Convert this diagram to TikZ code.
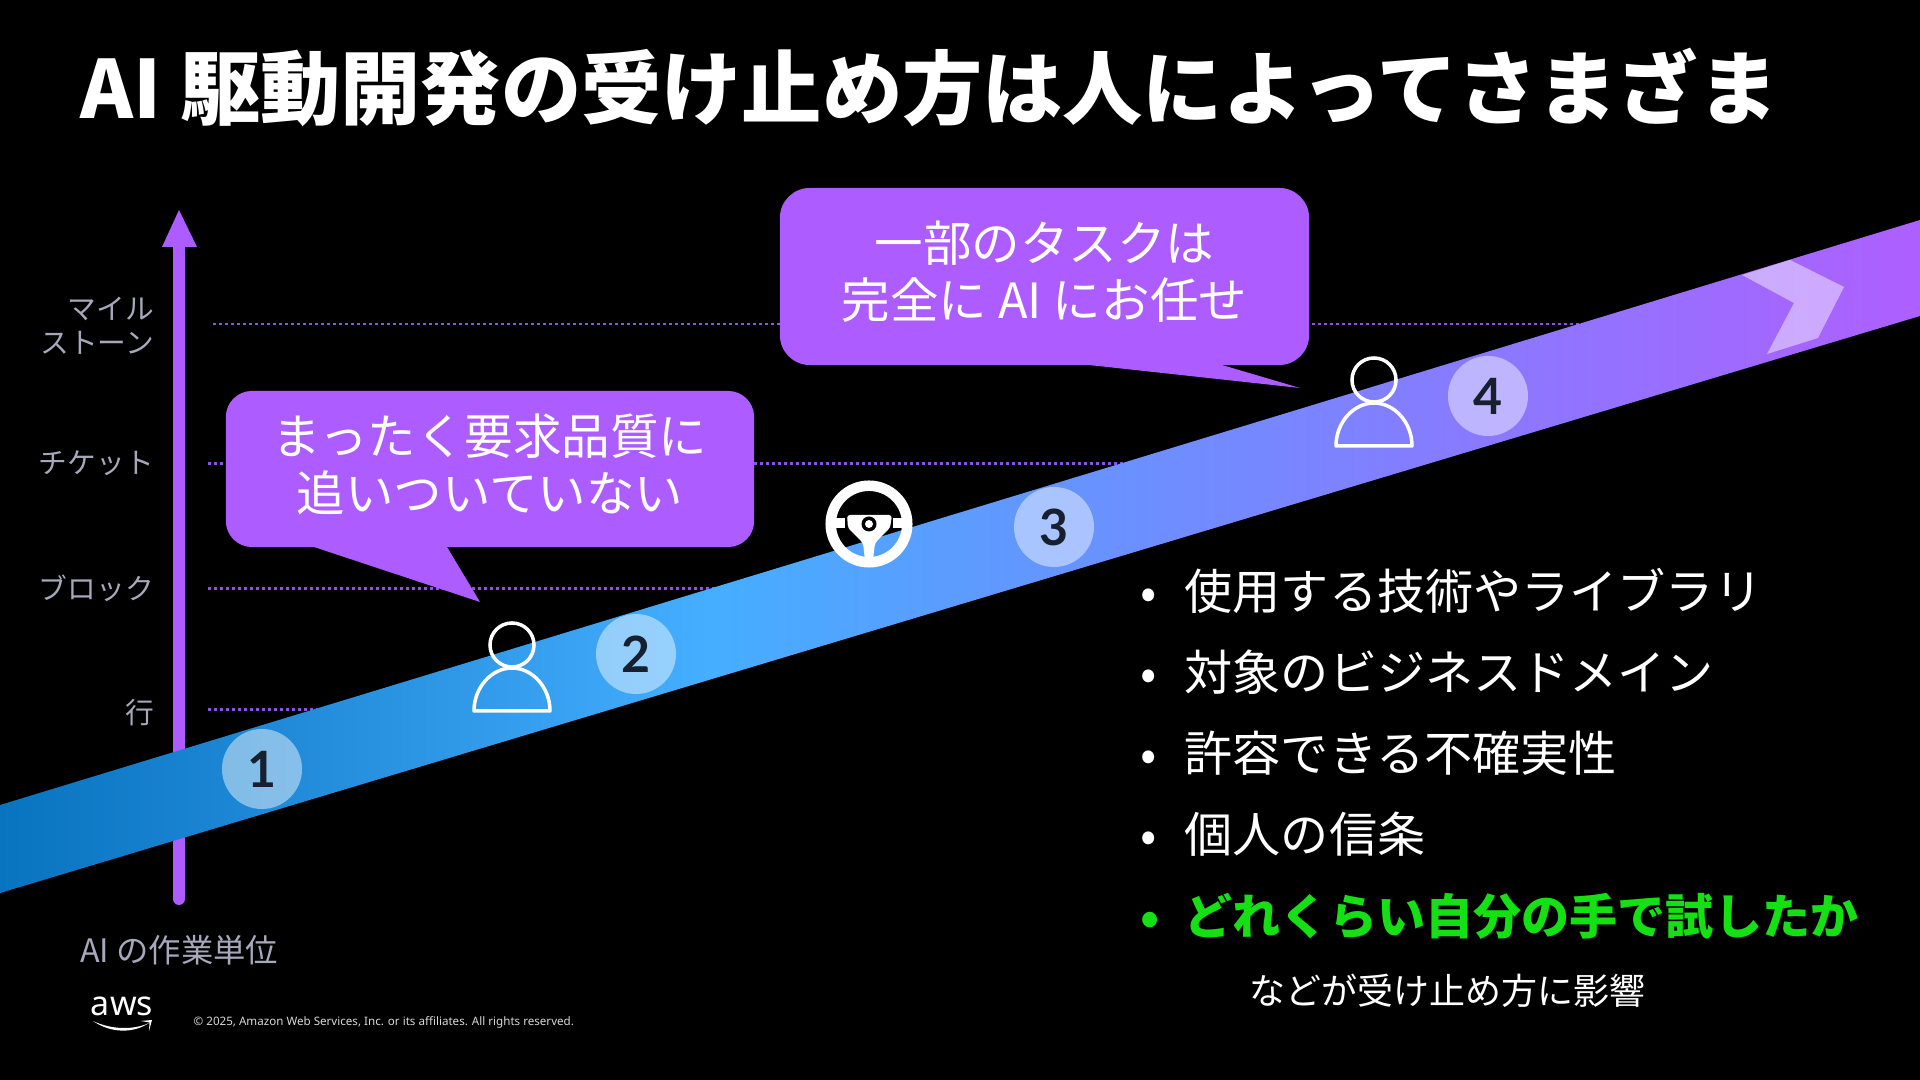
\documentclass[tikz,border=0pt]{standalone}
\usepackage{fontspec}
\setmainfont{Noto Sans CJK JP}
\newfontfamily\latinfont{Noto Sans}
\newfontfamily\digitfont{Lato}
\usepackage{xcolor}
\usetikzlibrary{arrows.meta,positioning,calc}
\definecolor{axispurple}{HTML}{AD5CFF}
\definecolor{dotpurple}{HTML}{8F52E0}
\definecolor{labelgrey}{HTML}{A8A8BC}
\definecolor{digitdark}{HTML}{16202E}
\definecolor{trygreen}{HTML}{14E014}
\definecolor{ribA}{HTML}{0873BF}
\definecolor{ribB}{HTML}{45AEFF}
\definecolor{ribC}{HTML}{6396FF}
\definecolor{ribD}{HTML}{8B78FF}
\definecolor{ribE}{HTML}{AE5FFF}
\pgfdeclarehorizontalshading{ribbonshade}{100bp}{
  color(0bp)=(ribA);
  color(25bp)=(ribA);
  color(43.5bp)=(ribB);
  color(52bp)=(ribC);
  color(64bp)=(ribD);
  color(75bp)=(ribE);
  color(100bp)=(ribE)}
\newdimen\pxdim
\pxdim=0.2845pt
\newcommand{\pxfont}[2]{\fontsize{\the\dimexpr#1\pxdim\relax}{\the\dimexpr#2\pxdim\relax}\selectfont}
\newcommand{\bulletitem}[1]{\makebox[0.44cm][l]{•}#1}
\tikzset{
  person/.pic={
    \draw[white, line width=0.035cm] (0,0) circle (0.22cm);
    \draw[white, line width=0.035cm, line join=round] (-38,66) -- (38,66) .. controls (38,42) and (20,23) .. (0,23) .. controls (-20,23) and (-38,42) .. (-38,66) -- cycle;
  },
  wheel/.pic={
    \fill[white, even odd rule] (0,0) circle (0.435cm) (0,0) circle (0.33cm);
    \fill[white, rounded corners=0.03cm] (-22,-9) -- (23,-9) -- (21,4) -- (6,19) -- (4,36) -- (-4,36) -- (-6,19) -- (-21,4) -- cycle;
    \fill[white] (-36,-6) rectangle (-24,4);
    \fill[white] (24,-6) rectangle (36,4);
    \fill[black] (0,0) circle (0.075cm);
    \fill[white] (0,0) circle (0.04cm);
  }
}
\begin{document}
\begin{tikzpicture}[
    x=0.01cm, y=-0.01cm,
    >=Latex,
    bubble/.style={fill=axispurple, rounded corners=0.26cm, inner sep=0pt},
    bubbletext/.style={text=white, align=center, inner sep=0pt, font=\pxfont{48.5}{57}},
    tail/.style={fill=axispurple},
    dotline/.style={dotpurple, line width=0.03cm, dash pattern=on 0.03cm off 0.03cm},
    axislabel/.style={labelgrey, anchor=east, align=right, inner sep=0pt, font=\pxfont{28.7}{34}},
    stepdot/.style={circle, fill=white, fill opacity=0.45, text opacity=1, text=digitdark, minimum size=0.8cm, inner sep=0pt, font=\digitfont\pxfont{50}{50}\bfseries},
    listitem/.style={text=white, anchor=west, inner sep=0pt, text height=0.36cm, text depth=0.07cm, font=\pxfont{48.1}{48}}
]
\fill[black] (0,0) rectangle (1920,1080);
\useasboundingbox (0,0) rectangle (1920,1080);
\node[anchor=west, inner sep=0pt, text=white, font=\pxfont{80.2}{80}\bfseries] (title) at (80,87) {AI 駆動開発の受け止め方は人によってさまざま};
% axis and levels
\coordinate (axisbot) at (179,899);
\coordinate (axistop) at (179,210);
\draw[axispurple, line width=0.12cm, line cap=round] (axisbot) -- (179,240);
\fill[axispurple] (axistop) -- (197,247) -- (162,247) -- cycle;
\coordinate (levM) at (213,324);
\coordinate (levT) at (208,464);
\coordinate (levB) at (208,589);
\coordinate (levL) at (208,710);
\draw[dotline, line width=0.02cm] (levM) -- ++(1370,0);
\draw[dotline] (levT) -- ++(915,0);
\draw[dotline] (levB) -- ++(510,0);
\draw[dotline] (levL) -- ++(110,0);
\node[axislabel] (milestone) at (154.5,326) {マイル\\ストーン};
\node[axislabel] (ticket) at (154.5,463) {チケット};
\node[axislabel] (block) at (154.5,588) {ブロック};
\node[axislabel] (line) at (154.5,713) {行};
\node[labelgrey, inner sep=0pt, font=\pxfont{32.3}{33}] (unit) at (179,950) {AI の作業単位};
% ribbon
\shade[shading=ribbonshade] (0,805) -- (1920,220) -- (1920,316) -- (0,893) -- cycle;
\fill[white, fill opacity=0.45] (1742,275) -- (1790,260) -- (1844,287) -- (1818,338) -- (1767,354) -- (1794,303) -- cycle;
\node[stepdot] (one) at (262,769) {1};
\node[stepdot] (two) at (636,654) {2};
\node[stepdot] (three) at (1054,527) {3};
\node[stepdot] (four) at (1488,396) {4};
\pic at (512,645) {person};
\pic at (1374,380) {person};
\pic at (869,524) {wheel};
% bubbles
\fill[tail] (314,540) -- (314,547) -- (480,602) -- (447,547) -- (447,540) -- cycle;
\node[bubble, minimum width=5.28cm, minimum height=1.56cm] (behind) at (490,469) {};
\node[bubbletext] (behindtext) at (490,464) {まったく要求品質に\\追いついていない};
\fill[tail] (1089,358) -- (1089,365) -- (1300,388) -- (1222,365) -- (1222,358) -- cycle;
\node[bubble, rounded corners=0.3cm, minimum width=5.29cm, minimum height=1.77cm] (delegate) at (1044.5,276.5) {};
\node[bubbletext] (delegatetext) at (1044.5,271.5) {一部のタスクは\\完全に AI にお任せ};
% list
\node[listitem] (tech) at (1140,595) {\bulletitem{使用する技術やライブラリ}};
\node[listitem, below=0.81cm of tech.west, anchor=west] (domain) {\bulletitem{対象のビジネスドメイン}};
\node[listitem, below=0.81cm of domain.west, anchor=west] (risk) {\bulletitem{許容できる不確実性}};
\node[listitem, below=0.81cm of risk.west, anchor=west] (belief) {\bulletitem{個人の信条}};
\node[listitem, below=0.82cm of belief.west, anchor=west, text=trygreen, font=\pxfont{48.1}{48}\bfseries] (tried) {\bulletitem{どれくらい自分の手で試したか}};
\node[anchor=west, inner sep=0pt, text=white, font=\pxfont{36}{36}] (effect) at (1249,991) {などが受け止め方に影響};
% logo and footer
\node[inner sep=0pt, text=white, font=\latinfont\pxfont{34}{34}] (aws) at (122,1006) {aws};
\fill[white] (93,1021) .. controls (112,1034) and (134,1033) .. (149,1023) .. controls (134,1030) and (112,1030) .. cycle;
\fill[white] (141,1021) -- (152,1020) -- (149,1031) -- (149.5,1022.5) -- cycle;
\node[anchor=west, inner sep=0pt, text=white!85!black, font=\latinfont\pxfont{11.6}{12}] (copyright) at (193,1022) {© 2025, Amazon Web Services, Inc. or its affiliates. All rights reserved.};
\end{tikzpicture}
\end{document}
